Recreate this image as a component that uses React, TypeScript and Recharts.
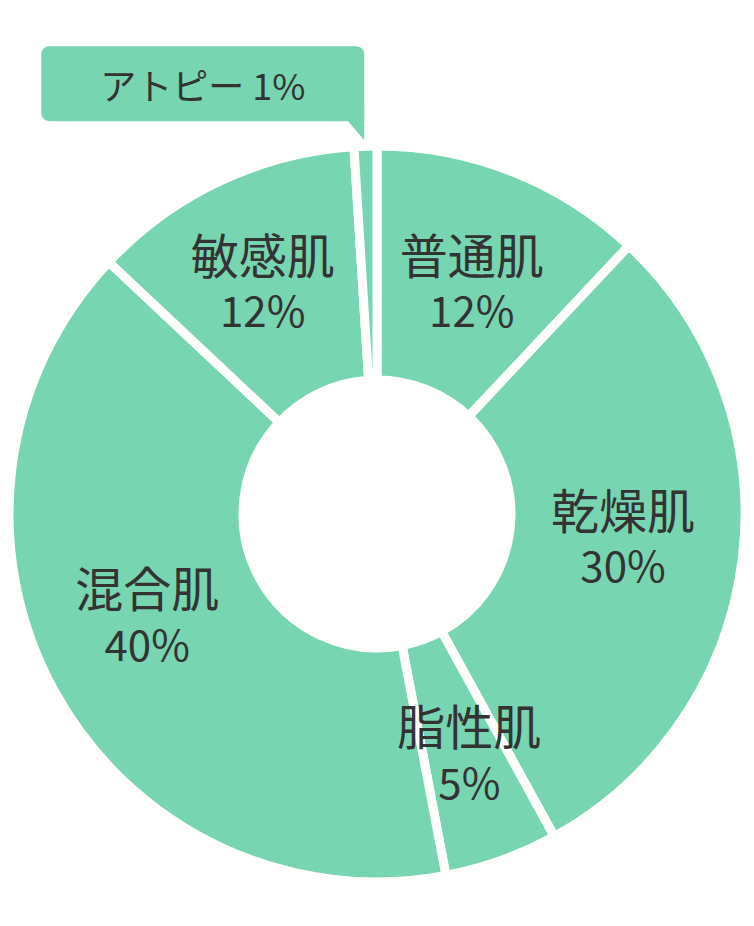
import React from 'react';
import { PieChart, Pie, Cell } from 'recharts';

const skinTypes = ['普通肌', '乾燥肌', '脂性肌', '混合肌', '敏感肌', 'アトピー'];
const shares = [12, 30, 5, 40, 12, 1];

const data = skinTypes.map((name, i) => ({ name, value: shares[i] }));

const RAD = Math.PI / 180;
const FILL = '#78d5b1';
const TEXT = '#333333';
const FONT = '"Noto Sans CJK JP", "Noto Sans", sans-serif';
const CALLOUT = skinTypes.length - 1;

// hand tweaks so the labels sit where the original puts them
const nudge = [
  [2, 1],
  [-4, -10],
  [7, 1],
  [-9, -21],
  [-7, -5],
  [0, 0],
];

const renderLabel = (props) => {
  const { cx, cy, midAngle, outerRadius, index } = props;
  const name = skinTypes[index];
  const pct = shares[index];

  if (index === CALLOUT) {
    // speech bubble above the thin slice
    const tipX = cx + (outerRadius + 6) * Math.cos(-midAngle * RAD);
    const tipY = cy + (outerRadius + 6) * Math.sin(-midAngle * RAD);
    const right = tipX - 1;
    const bottom = tipY - 19;
    const w = 323;
    const h = 75;
    return (
      <g>
        <rect x={right - w} y={bottom - h} width={w} height={h} rx={8} fill={FILL} />
        <polygon
          points={`${right - 17},${bottom - 1} ${right},${tipY} ${right},${bottom - 10}`}
          fill={FILL}
        />
        <text
          x={right - w / 2}
          y={bottom - h / 2}
          textAnchor="middle"
          dominantBaseline="central"
          fontSize={36}
          fontFamily={FONT}
          fill={TEXT}
        >
          {`${name} ${pct}%`}
        </text>
      </g>
    );
  }

  const r = 252;
  const x = cx + r * Math.cos(-midAngle * RAD) + nudge[index][0];
  const y = cy + r * Math.sin(-midAngle * RAD) + nudge[index][1];
  return (
    <g>
      <text x={x} y={y - 28} textAnchor="middle" dominantBaseline="central" fontSize={48} fontFamily={FONT} fill={TEXT}>
        {name}
      </text>
      <text x={x} y={y + 28} textAnchor="middle" dominantBaseline="central" fontSize={42} fontFamily={FONT} fill={TEXT}>
        {pct}%
      </text>
    </g>
  );
};

const App = () => {
  return (
    <div style={{ width: 738, height: 900 }}>
      <PieChart width={738} height={900} margin={{ top: 0, right: 0, bottom: 0, left: 0 }}>
        <Pie
          data={data}
          dataKey="value"
          nameKey="name"
          cx={369}
          cy={506}
          innerRadius={134}
          outerRadius={368}
          startAngle={90}
          endAngle={-270}
          stroke="#ffffff"
          strokeWidth={9}
          label={renderLabel}
          labelLine={false}
          isAnimationActive={false}
        >
          {data.map((d) => (
            <Cell key={d.name} fill={FILL} />
          ))}
        </Pie>
      </PieChart>
    </div>
  );
};

export default App;
